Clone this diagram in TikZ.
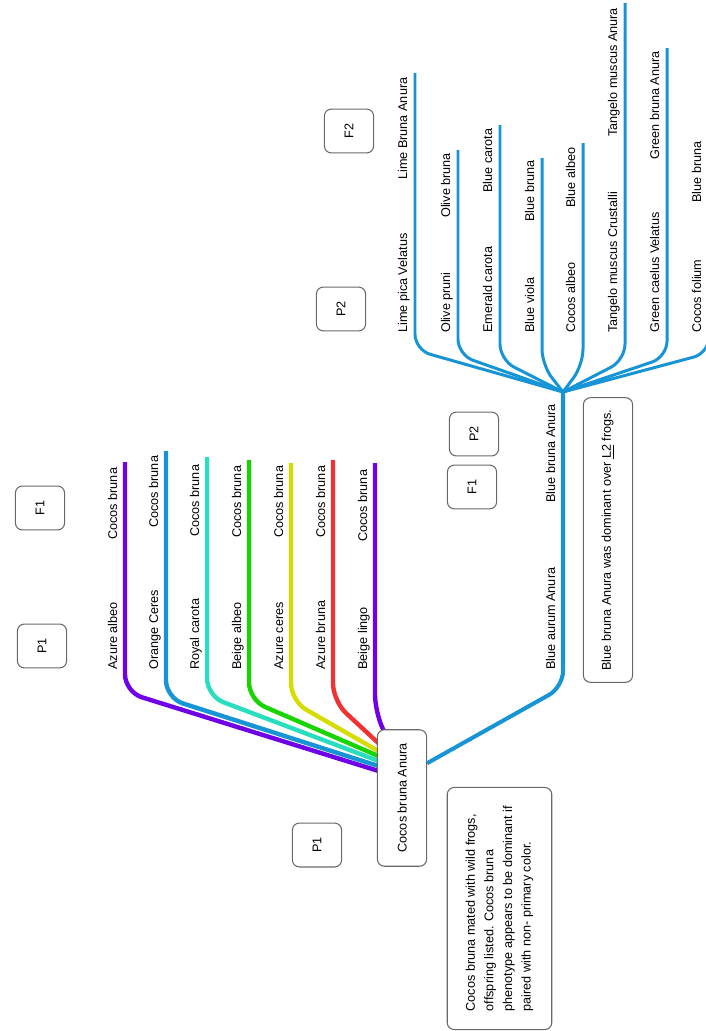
\documentclass[tikz,border=0pt]{standalone}
\usepackage{fontspec}
\setmainfont{Liberation Sans}
\usetikzlibrary{backgrounds}
\definecolor{MapPurple}{RGB}{112,0,230}
\definecolor{MapBlue}{RGB}{22,148,214}
\definecolor{MapTeal}{RGB}{40,222,190}
\definecolor{MapGreen}{RGB}{25,212,0}
\definecolor{MapYellow}{RGB}{214,220,0}
\definecolor{MapRed}{RGB}{240,50,50}
\definecolor{BoxGray}{RGB}{105,105,105}
\def\mapf{\fontsize{7.2}{10.6}\selectfont}
\tikzset{
	box/.style={draw=BoxGray,line width=0.6pt,rounded corners=4pt,fill=white,rotate=90,font=\mapf},
	hub/.style={box,minimum width=77.7pt,minimum height=28pt},
	tagbox/.style={box,minimum width=25pt,minimum height=28pt},
	twig/.style={rotate=90,anchor=base west,inner sep=0pt,font=\mapf},
	rbranch/.style={line width=2.5pt,rounded corners=10pt},
	bbranch/.style={line width=1.7pt,rounded corners=9pt,draw=MapBlue}
}

\begin{document}
\begin{tikzpicture}[x=0.02cm,y=-0.02cm]
	\useasboundingbox (0,0) rectangle (706,1031);
	\node[hub] (root) at (402,798) {Cocos bruna Anura};
	\node[box,align=left,minimum width=137.8pt,minimum height=59.5pt] (noteA) at (499.5,908.5)
		{Cocos bruna mated with wild frogs,\\offspring listed.  Cocos bruna\\phenotype appears to be dominant if\\paired with non- primary color.};
	\node[box,minimum width=162pt,minimum height=28pt] (noteB) at (608,540)
		{Blue bruna Anura was dominant over \underline{L2} frogs.};
	\node[tagbox] (pA) at (317,845) {P1};
	\node[tagbox] (pB) at (42,646) {P1};
	\node[tagbox] (fA) at (40,508) {F1};
	\node[tagbox] (fB) at (472,487) {F1};
	\node[tagbox] (pC) at (474,434) {P2};
	\node[tagbox] (pD) at (341,309) {P2};
	\node[tagbox] (fC) at (349,131) {F2};
	\begin{scope}[on background layer]
		\clip (0,0) rectangle (706,1031);
		\foreach \col/\x/\top/\bend/\dx/\dy/\lo/\up [count=\i] in {
			MapPurple/125/462/692/1/-23.8/Azure albeo/540,
			MapBlue/166/451/698/1/-21/Orange Ceres/528,
			MapTeal/207/457/696/1/-18.1/Royal carota/537,
			MapGreen/249/460/700/1/-15.3/Beige albeo/538,
			MapYellow/291/463/701/1/-12.5/Azure ceres/538,
			MapRed/333/460/701/1.5/-8.5/Azure bruna/538,
			MapPurple/375/463/712/4/-1/Beige lingo/542}
		{
			\coordinate (r\i) at (\x,\top);
			\draw[rbranch,draw=\col] (r\i) -- (\x,\bend) -- ([xshift=\dx pt,yshift=\dy pt]root.north east);
			\node[twig] (rl\i) at (\x-8,670) {\lo};
			\node[twig] (ru\i) at (\x-8,\up) {Cocos bruna};
		}
		\coordinate (split) at (563,392);
		\draw[bbranch,line width=2.3pt] ([yshift=19.8pt]root.south) -- (563,687) -- (split);
		\node[twig] (tl) at (555,670) {Blue aurum Anura};
		\node[twig] (tu) at (555,503) {Blue bruna Anura};
		\foreach \x/\top/\bend/\lo/\hi/\up [count=\i] in {
			415/73/350/Lime pica Velatus/Lime Bruna Anura/180,
			458/150/355/Olive pruni/Olive bruna/218,
			500/125/360/Emerald carota/Blue carota/193,
			542/158/365/Blue viola/Blue bruna/222,
			583/143/365/Cocos albeo/Blue albeo/208,
			625/3/360/Tangelo muscus Crustalli/Tangelo muscus Anura/137,
			667/48/357/Green caelus Velatus/Green bruna Anura/160,
			709/140/353/Cocos folium/Blue bruna/203}
		{
			\coordinate (b\i) at (\x,\top);
			\draw[bbranch] (split) -- (\x,\bend) -- (b\i);
			\node[twig] (bl\i) at (\x-8,333) {\lo};
			\node[twig] (bu\i) at (\x-8,\up) {\hi};
		}
	\end{scope}
\end{tikzpicture}
\end{document}
